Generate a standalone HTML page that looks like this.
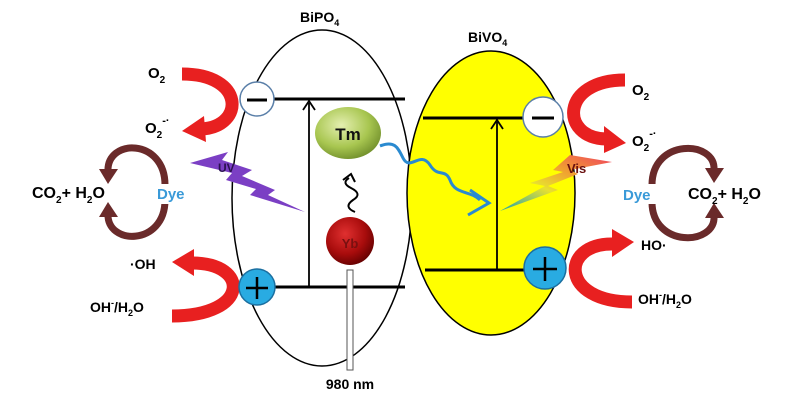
<!DOCTYPE html>
<html><head><meta charset="utf-8"><style>
html,body{margin:0;padding:0;background:#fff;}
svg{display:block;font-family:"Liberation Sans",Arial,sans-serif;font-weight:bold;}
</style></head><body>
<svg width="808" height="400" viewBox="0 0 808 400" xmlns="http://www.w3.org/2000/svg">
<defs>
<radialGradient id="tm" cx="40%" cy="35%" r="70%"><stop offset="0" stop-color="#e4efb0"/><stop offset="0.6" stop-color="#a8c650"/><stop offset="1" stop-color="#6f8d2a"/></radialGradient>
<radialGradient id="yb" cx="40%" cy="35%" r="70%"><stop offset="0" stop-color="#e03030"/><stop offset="0.6" stop-color="#a80c0c"/><stop offset="1" stop-color="#600000"/></radialGradient>
<linearGradient id="vis" x1="1" y1="0" x2="0" y2="1"><stop offset="0" stop-color="#f04060"/><stop offset="0.35" stop-color="#f0a030"/><stop offset="0.6" stop-color="#e8e030"/><stop offset="1" stop-color="#20a0b0"/></linearGradient>
</defs>
<ellipse cx="322" cy="198" rx="90" ry="168" fill="#fff" stroke="#000" stroke-width="1.5"/>
<ellipse cx="491" cy="193" rx="84" ry="142" fill="#ffff00" stroke="#000" stroke-width="1.5"/>
<!-- red arrows left -->
<path d="M182,74 C245,74 245,126 202,129" fill="none" stroke="#e82020" stroke-width="13"/>
<polygon points="182,131 204,116 206,142" fill="#e82020"/>
<path d="M172,316 C250,316 250,263 192,263" fill="none" stroke="#e82020" stroke-width="13"/>
<polygon points="172,262 194,249 194,276" fill="#e82020"/>
<!-- red arrows right -->
<path d="M625,80 C560,80 560,138 606,139" fill="none" stroke="#e82020" stroke-width="13"/>
<polygon points="626,143 604,126 604,153" fill="#e82020"/>
<path d="M632,302 C560,302 560,244 612,244" fill="none" stroke="#e82020" stroke-width="13"/>
<polygon points="634,242 612,229 612,257" fill="#e82020"/>
<!-- BiPO4 bands -->
<line x1="272" y1="99" x2="405" y2="99" stroke="#000" stroke-width="3"/>
<line x1="272" y1="287" x2="405" y2="287" stroke="#000" stroke-width="3"/>
<line x1="309" y1="286" x2="309" y2="103" stroke="#000" stroke-width="1.8"/>
<path d="M303,110 L309,101 L315,110" fill="none" stroke="#000" stroke-width="1.8"/>
<circle cx="257" cy="99" r="17" fill="#fff" stroke="#5a7fa8" stroke-width="1.5"/>
<line x1="247" y1="100" x2="267" y2="100" stroke="#000" stroke-width="3"/>
<circle cx="257" cy="287" r="18" fill="#29abe2" stroke="#1b6fa0" stroke-width="1.5"/>
<line x1="246" y1="288" x2="268" y2="288" stroke="#000" stroke-width="2.5"/>
<line x1="257" y1="277" x2="257" y2="299" stroke="#000" stroke-width="2.5"/>
<!-- Tm / Yb -->
<ellipse cx="348" cy="133" rx="33" ry="26" fill="url(#tm)"/>
<text x="348" y="140" font-size="17" text-anchor="middle" fill="#111">Tm</text>
<rect x="347" y="270" width="6" height="100" fill="#fff" stroke="#555" stroke-width="1"/>
<circle cx="350" cy="241" r="24" fill="url(#yb)"/>
<text x="350" y="248" font-size="13" text-anchor="middle" fill="#7a1010">Yb</text>
<path d="M355,212 q-12,-5 -2,-12 q10,-6 -2,-12 q-10,-5 -2,-10" fill="none" stroke="#000" stroke-width="2"/>
<path d="M343,180 l8,-6 l4,8" fill="none" stroke="#000" stroke-width="2"/>
<text x="350" y="389" font-size="14" text-anchor="middle" fill="#000">980 nm</text>
<!-- UV bolt -->
<polygon points="190,163 228,152 222,160 252,170 242,176 275,190 268,195 305,212 250,195 256,189 226,180 232,173" fill="#7b3fc4"/>
<text x="218" y="172" font-size="12" fill="#2a1050">UV</text>
<!-- BiVO4 bands -->
<line x1="423" y1="118" x2="525" y2="118" stroke="#000" stroke-width="3"/>
<line x1="425" y1="270" x2="528" y2="270" stroke="#000" stroke-width="3"/>
<line x1="497" y1="269" x2="497" y2="122" stroke="#000" stroke-width="1.8"/>
<path d="M491,129 L497,120 L503,129" fill="none" stroke="#000" stroke-width="1.8"/>
<circle cx="543" cy="117" r="20" fill="#fff" stroke="#5a7fa8" stroke-width="1.5"/>
<line x1="532" y1="118" x2="554" y2="118" stroke="#000" stroke-width="3"/>
<circle cx="545" cy="268" r="21" fill="#29abe2" stroke="#1b6fa0" stroke-width="1.5"/>
<line x1="533" y1="269" x2="557" y2="269" stroke="#000" stroke-width="2.5"/>
<line x1="545" y1="257" x2="545" y2="281" stroke="#000" stroke-width="2.5"/>
<!-- blue wave -->
<path d="M380,146 C395,140 398,148 403,158 C410,172 420,150 430,165 C438,178 445,168 450,180 C455,195 470,190 480,200" fill="none" stroke="#2a8ad0" stroke-width="3"/>
<path d="M470,190 L489,203 L468,215" fill="none" stroke="#2a8ad0" stroke-width="3"/>
<!-- Vis bolt -->
<polygon points="612,162 570,155 553,170 563,172 530,183 545,186 500,211 558,190 548,186 578,174 570,170" fill="url(#vis)"/>
<text x="567" y="173" font-size="13" fill="#6a1010">Vis</text>
<!-- brown cycles -->
<g fill="none" stroke="#6a2a2a" stroke-width="7">
<path d="M165,185 C165,138 106,138 108,172"/>
<path d="M165,200 C165,246 106,246 108,213"/>
<path d="M652,185 C652,138 716,140 714,170"/>
<path d="M652,202 C652,248 716,246 714,216"/>
</g>
<g fill="#6a2a2a">
<polygon points="108,184 99,169 118,169"/>
<polygon points="108,202 99,217 118,217"/>
<polygon points="714,183 705,168 724,168"/>
<polygon points="714,203 705,218 724,218"/>
</g>
<rect x="155" y="184" width="40" height="20" fill="#fff"/>
<rect x="620" y="184" width="42" height="20" fill="#fff"/>
<!-- labels -->
<text x="300" y="22" font-size="14">BiPO<tspan font-size="9" dy="4">4</tspan></text>
<text x="468" y="42" font-size="14">BiVO<tspan font-size="9" dy="4">4</tspan></text>
<text x="148" y="78" font-size="15">O<tspan font-size="10" dy="5">2</tspan></text>
<text x="145" y="133" font-size="15">O<tspan font-size="10" dy="5">2</tspan><tspan font-size="11" dy="-14">-·</tspan></text>
<text x="32" y="198" font-size="16">CO<tspan font-size="10" dy="5">2</tspan><tspan dy="-5">+ H</tspan><tspan font-size="10" dy="5">2</tspan><tspan dy="-5">O</tspan></text>
<text x="157" y="199" font-size="15" fill="#3a9ad8">Dye</text>
<text x="130" y="269" font-size="14">·OH</text>
<text x="90" y="312" font-size="14">OH<tspan font-size="9" dy="-6">-</tspan><tspan dy="6">/H</tspan><tspan font-size="9" dy="4">2</tspan><tspan dy="-4">O</tspan></text>
<text x="632" y="95" font-size="15">O<tspan font-size="10" dy="5">2</tspan></text>
<text x="632" y="146" font-size="15">O<tspan font-size="10" dy="5">2</tspan><tspan font-size="11" dy="-14">-·</tspan></text>
<text x="623" y="200" font-size="15" fill="#3a9ad8">Dye</text>
<text x="688" y="199" font-size="16">CO<tspan font-size="10" dy="5">2</tspan><tspan dy="-5">+ H</tspan><tspan font-size="10" dy="5">2</tspan><tspan dy="-5">O</tspan></text>
<text x="641" y="250" font-size="14">HO·</text>
<text x="638" y="304" font-size="14">OH<tspan font-size="9" dy="-6">-</tspan><tspan dy="6">/H</tspan><tspan font-size="9" dy="4">2</tspan><tspan dy="-4">O</tspan></text>
</svg>
</body></html>
